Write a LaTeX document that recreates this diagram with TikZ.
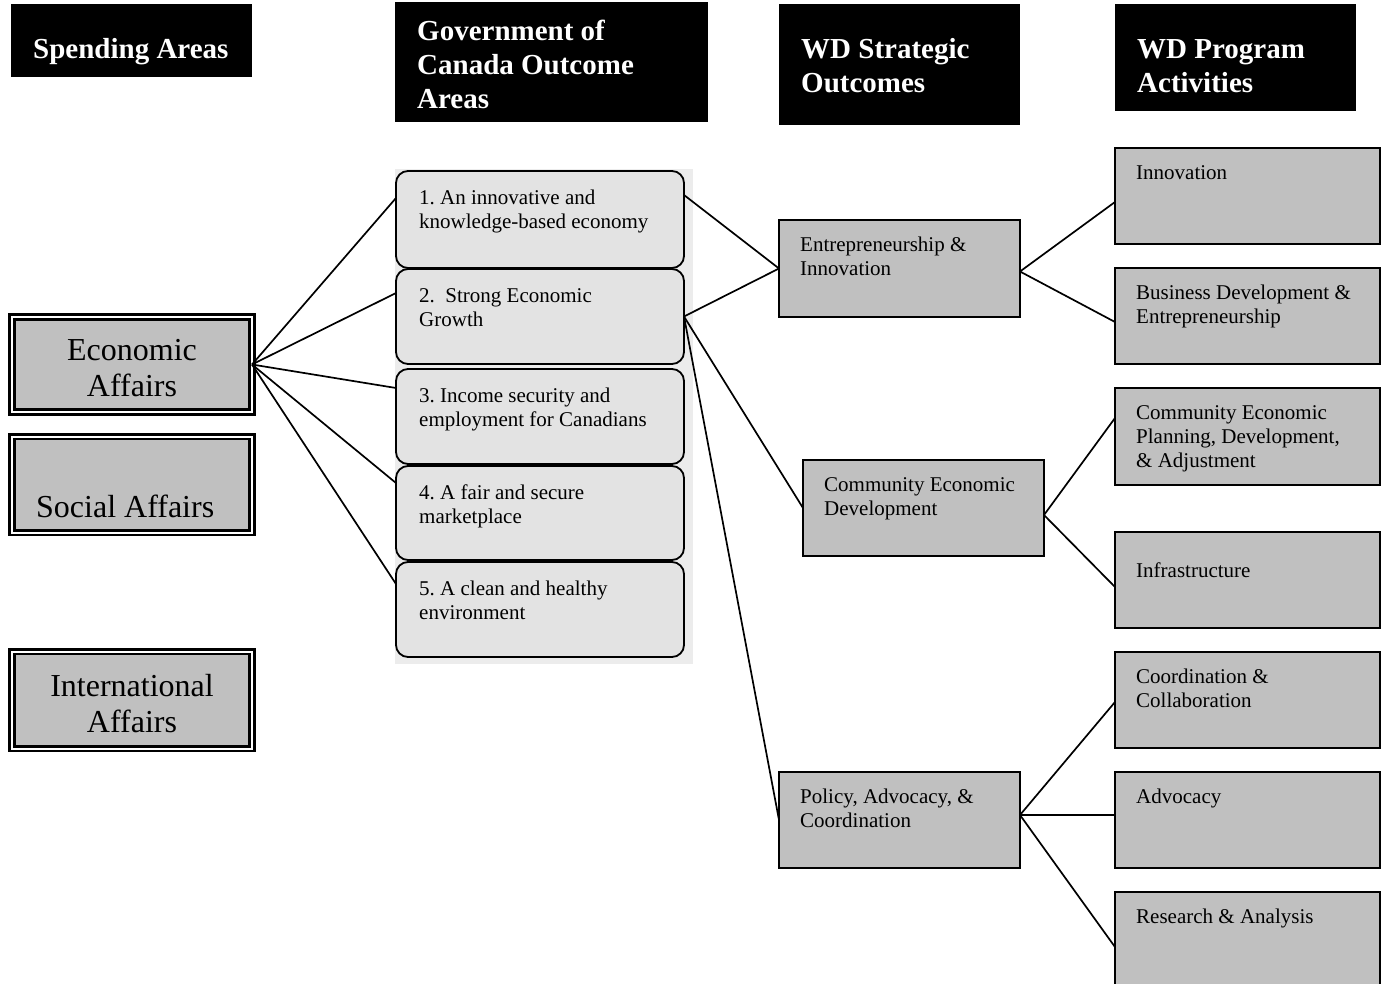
\documentclass[tikz,border=0pt]{standalone}
\usepackage{fontspec}
\setmainfont{Liberation Serif}
\usetikzlibrary{calc}
\definecolor{boxgray}{HTML}{C0C0C0}
\definecolor{outgray}{HTML}{E3E3E3}
\definecolor{colgray}{HTML}{ECECEC}
\frenchspacing
\begin{document}
\begin{tikzpicture}[x=1pt,y=-1pt,
 hdr/.style={fill=black, draw=none, anchor=north west, inner sep=0pt, outer sep=0pt},
 hdrtxt/.style={text=white, font=\fontsize{29}{34}\selectfont\bfseries, anchor=north west, inner sep=0pt, align=left},
 spend/.style={draw=black, line width=2.6pt, double=white, double distance=2pt, fill=boxgray, anchor=north west, inner sep=0pt, outer sep=0pt, minimum width=240pt},
 spendtxt/.style={font=\fontsize{32}{36}\selectfont, inner sep=0pt, align=center},
 outbox/.style={draw=black, line width=1.8pt, rounded corners=12pt, fill=outgray, anchor=north west, inner sep=0pt, outer sep=0pt, minimum width=288pt},
 recbox/.style={draw=black, line width=1.8pt, fill=boxgray, anchor=north west, inner sep=0pt, outer sep=0pt},
 txt/.style={font=\fontsize{21}{24}\selectfont, anchor=north west, inner sep=0pt, align=left},
 conn/.style={draw=black, line width=1.7pt}]
\useasboundingbox (0,0) rectangle (1382,984);

% headers
\node[hdr, minimum width=241pt, minimum height=73pt] (h1) at (11,4) {};
\node[hdr, minimum width=313pt, minimum height=120pt] (h2) at (395,2) {};
\node[hdr, minimum width=241pt, minimum height=121pt] (h3) at (779,4) {};
\node[hdr, minimum width=241pt, minimum height=107pt] (h4) at (1115,4) {};
\node[hdrtxt] (h1t) at ($(h1.north west)+(22,30.2)$) {\strut Spending Areas};
\node[hdrtxt] (h2t) at ($(h2.north west)+(22,14.2)$) {\strut Government of\\Canada Outcome\\Areas};
\node[hdrtxt] (h3t) at ($(h3.north west)+(22,30.2)$) {\strut WD Strategic\\Outcomes};
\node[hdrtxt] (h4t) at ($(h4.north west)+(22,30.2)$) {\strut WD Program\\Activities};

% spending areas
\node[spend, minimum height=95pt] (ea) at (12,317) {};
\node[spend, minimum height=96pt] (sa) at (12,436.5) {};
\node[spend, minimum height=97pt] (ia) at (12,651.5) {};
\node[spendtxt, anchor=north] (eat) at ($(ea.north)+(0,17.8)$) {\strut Economic\\Affairs};
\node[spendtxt, anchor=north west] (sat) at ($(sa.north west)+(24,55.3)$) {\strut Social Affairs};
\node[spendtxt, anchor=north] (iat) at ($(ia.north)+(0,19.3)$) {\strut International\\Affairs};

% outcome areas
\node[fill=colgray, anchor=north west, inner sep=0pt, outer sep=0pt, minimum width=298pt, minimum height=495pt] (colbg) at (395,169) {};
\node[outbox, minimum height=97pt] (o1) at (396,171) {};
\node[outbox, minimum height=95pt] (o2) at (396,269) {};
\node[outbox, minimum height=95pt] (o3) at (396,369) {};
\node[outbox, minimum height=94pt] (o4) at (396,466) {};
\node[outbox, minimum height=95pt] (o5) at (396,562) {};
\node[txt] (o1t) at ($(o1.north west)+(23,16.5)$) {\strut 1. An innovative and\\knowledge-based economy};
\node[txt] (o2t) at ($(o2.north west)+(23,16.5)$) {\strut 2.\ \ Strong Economic\\Growth};
\node[txt] (o3t) at ($(o3.north west)+(23,16.5)$) {\strut 3. Income security and\\employment for Canadians};
\node[txt] (o4t) at ($(o4.north west)+(23,16.5)$) {\strut 4. A fair and secure\\marketplace};
\node[txt] (o5t) at ($(o5.north west)+(23,16.5)$) {\strut 5. A clean and healthy\\environment};

% strategic outcomes
\node[recbox, minimum width=241pt, minimum height=97pt] (s1) at (779,220) {};
\node[recbox, minimum width=241pt, minimum height=96pt] (s2) at (803,460) {};
\node[recbox, minimum width=241pt, minimum height=96pt] (s3) at (779,772) {};
\node[txt] (s1t) at ($(s1.north west)+(21,14.5)$) {\strut Entrepreneurship \&\\Innovation};
\node[txt] (s2t) at ($(s2.north west)+(21,14.5)$) {\strut Community Economic\\Development};
\node[txt] (s3t) at ($(s3.north west)+(21,14.5)$) {\strut Policy, Advocacy, \&\\Coordination};

% program activities
\node[recbox, minimum width=265pt, minimum height=96pt] (p1) at (1115,148) {};
\node[recbox, minimum width=265pt, minimum height=96pt] (p2) at (1115,268) {};
\node[recbox, minimum width=265pt, minimum height=97pt] (p3) at (1115,388) {};
\node[recbox, minimum width=265pt, minimum height=96pt] (p4) at (1115,532) {};
\node[recbox, minimum width=265pt, minimum height=96pt] (p5) at (1115,652) {};
\node[recbox, minimum width=265pt, minimum height=96pt] (p6) at (1115,772) {};
\node[recbox, minimum width=265pt, minimum height=96pt] (p7) at (1115,892) {};
\node[txt] (p1t) at ($(p1.north west)+(21,14.5)$) {\strut Innovation};
\node[txt] (p2t) at ($(p2.north west)+(21,14.5)$) {\strut Business Development \&\\Entrepreneurship};
\node[txt] (p3t) at ($(p3.north west)+(21,14.5)$) {\strut Community Economic\\Planning, Development,\\\& Adjustment};
\node[txt] (p4t) at ($(p4.north west)+(21,28.5)$) {\strut Infrastructure};
\node[txt] (p5t) at ($(p5.north west)+(21,14.5)$) {\strut Coordination \&\\Collaboration};
\node[txt] (p6t) at ($(p6.north west)+(21,14.5)$) {\strut Advocacy};
\node[txt] (p7t) at ($(p7.north west)+(21,14.5)$) {\strut Research \& Analysis};

% connectors
\draw[conn] (ea.east) -- ([yshift=-27pt]o1.north west);
\draw[conn] (ea.east) -- ([yshift=-24pt]o2.north west);
\draw[conn] (ea.east) -- ([yshift=-19pt]o3.north west);
\draw[conn] (ea.east) -- ([yshift=-17pt]o4.north west);
\draw[conn] (ea.east) -- ([yshift=-22pt]o5.north west);
\draw[conn] ([yshift=-24pt]o1.north east) -- (s1.west);
\draw[conn] (o2.east) -- (s1.west);
\draw[conn] (o2.east) -- (s2.west);
\draw[conn] (o2.east) -- (s3.west);
\draw[conn] ([yshift=-3pt]s1.east) -- ([yshift=-6pt]p1.west);
\draw[conn] ([yshift=-3pt]s1.east) -- ([yshift=-6pt]p2.west);
\draw[conn] ([yshift=-7pt]s2.east) -- ([yshift=18.5pt]p3.west);
\draw[conn] ([yshift=-7pt]s2.east) -- ([yshift=-7pt]p4.west);
\draw[conn] ([yshift=5pt]s3.east) -- ([yshift=-2pt]p5.west);
\draw[conn] ([yshift=5pt]s3.east) -- ([yshift=5pt]p6.west);
\draw[conn] ([yshift=5pt]s3.east) -- ([yshift=-7pt]p7.west);
\end{tikzpicture}
\end{document}
